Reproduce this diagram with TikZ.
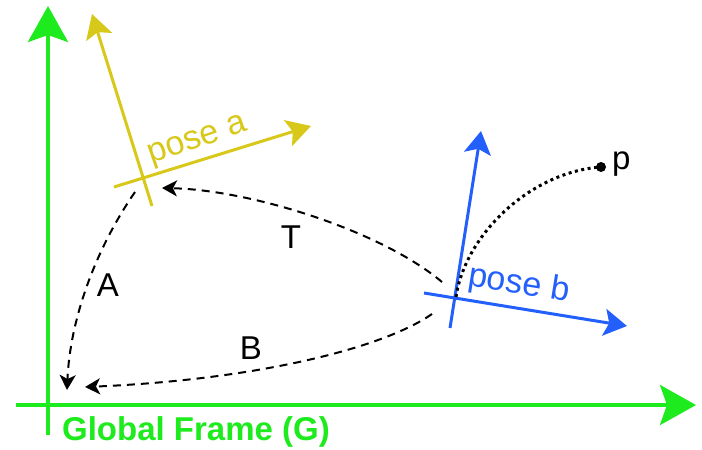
\documentclass[tikz,border=0pt]{standalone}
\usepackage{fontspec}
\setmainfont{Liberation Sans}
\usetikzlibrary{arrows.meta}
\definecolor{gfgreen}{RGB}{30,235,30}
\definecolor{payellow}{RGB}{215,200,25}
\definecolor{pbblue}{RGB}{35,95,250}
\begin{document}
\begin{tikzpicture}[x=1pt,y=-1pt,
  gaxis/.style={draw=gfgreen,line width=4pt,-{Stealth[length=36pt,width=40pt,inset=7pt]}},
  aaxis/.style={draw=payellow,line width=3pt,-{Stealth[length=24pt,width=27pt,inset=5pt]}},
  baxis/.style={draw=pbblue,line width=3pt,-{Stealth[length=23pt,width=27pt,inset=5pt]}},
  trans/.style={draw=black,line width=2pt,dash pattern=on 8pt off 6pt,-{Stealth[length=15pt,width=16pt,inset=4pt]}},
  dotline/.style={draw=black,line width=3pt,dash pattern=on 3pt off 3.5pt},
  lbl/.style={inner sep=0pt,font=\fontsize{33}{36}\selectfont},
]
\useasboundingbox (0,0) rectangle (702,450);
% global frame
\coordinate (gV0) at (48,435);
\coordinate (gV1) at (48,6);
\coordinate (gH0) at (16,405);
\coordinate (gH1) at (696,405);
\draw[gaxis] (gV0) -- (gV1);
\draw[gaxis] (gH0) -- (gH1);
\node[lbl,font=\fontsize{33}{36}\selectfont\bfseries,text=gfgreen] (gname) at (196,432) {Global Frame (G)};
% pose a
\coordinate (a10) at (152,206);
\coordinate (a11) at (92,14);
\coordinate (a20) at (114,187);
\coordinate (a21) at (311,126);
\draw[aaxis] (a10) -- (a11);
\draw[aaxis] (a20) -- (a21);
\node[lbl,font=\fontsize{34}{36}\selectfont,text=payellow,rotate=19] (aname) at (198,142) {pose a};
% pose b
\coordinate (b10) at (450,328);
\coordinate (b11) at (481,131);
\coordinate (b20) at (424,293);
\coordinate (b21) at (627,326);
\coordinate (bO) at (456,297);
\draw[baxis] (b10) -- (b11);
\draw[baxis] (b20) -- (b21);
\node[lbl,font=\fontsize{34}{36}\selectfont,text=pbblue,rotate=-9] (bname) at (519,285) {pose b};
% point p
\node[circle,fill=black,inner sep=0pt,minimum size=10pt] (pdot) at (601,167) {};
\node[lbl,anchor=west] (plabel) at (612,164) {p};
\draw[dotline] (bO) .. controls (465,235) and (530,172) .. (pdot.center);
% transforms
\coordinate (Ts) at (442,282);
\coordinate (Te) at (162,188);
\coordinate (As) at (135,192);
\coordinate (Ae) at (67,390);
\coordinate (Bs) at (432,314);
\coordinate (Be) at (85,387);
\draw[trans] (Ts) .. controls (380,230) and (250,190) .. (Te);
\draw[trans] (As) .. controls (95,250) and (70,320) .. (Ae);
\draw[trans] (Bs) .. controls (380,350) and (250,380) .. (Be);
\node[lbl] (Tl) at (291,237) {T};
\node[lbl] (Al) at (108,285) {A};
\node[lbl] (Bl) at (251,348) {B};
\end{tikzpicture}
\end{document}
